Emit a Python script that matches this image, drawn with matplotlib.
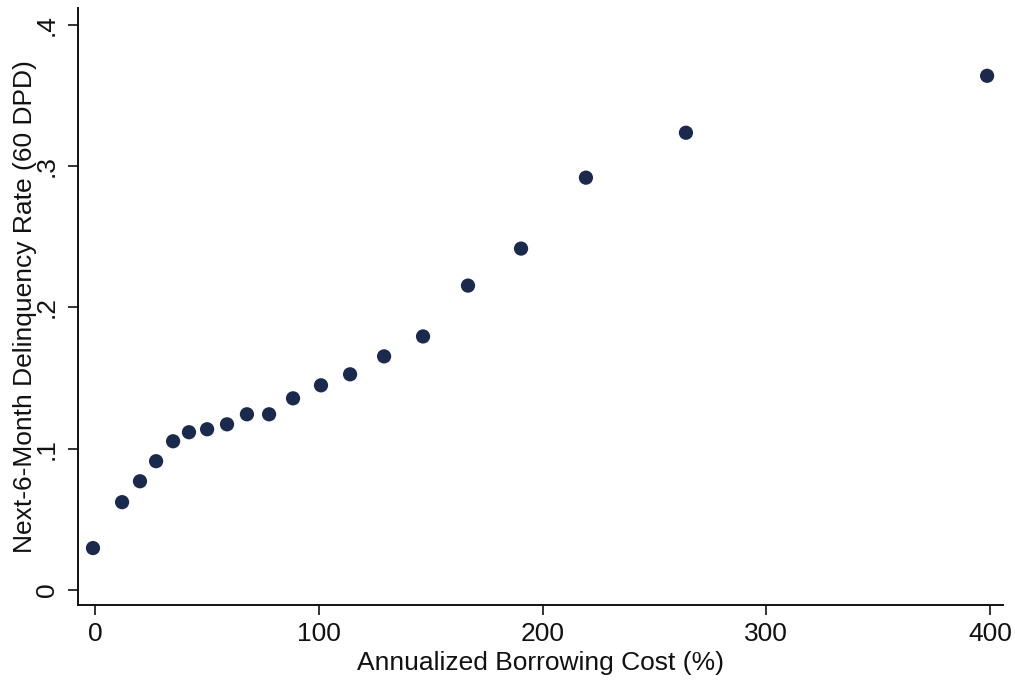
"""
Delinquency rate vs annualized borrowing cost (binned scatter).
"""

import matplotlib
matplotlib.use("Agg")
import matplotlib.pyplot as plt

# Binned means
COST = [-0.9, 12.1, 20.1, 27.3, 34.9, 42.0, 50.1, 59.0, 67.9, 77.8,
        88.5, 101.0, 114.0, 129.2, 146.6, 166.7, 190.4, 219.4, 264.1, 398.7]
DELINQ = [0.0297, 0.0622, 0.0770, 0.0912, 0.1053, 0.1117, 0.1138, 0.1173,
          0.1244, 0.1244, 0.1357, 0.1449, 0.1527, 0.1654, 0.1795, 0.2155,
          0.2417, 0.2919, 0.3237, 0.3640]

XTICKS = [0, 100, 200, 300, 400]
YTICKS = [0, 0.1, 0.2, 0.3, 0.4]
YTICKLABELS = ["0", ".1", ".2", ".3", ".4"]

plt.rcParams["font.family"] = ["Liberation Sans", "DejaVu Sans"]

fig = plt.figure(figsize=(10.15, 6.81), dpi=100)
ax = fig.add_axes([78 / 1015, 76 / 681, 925 / 1015, 597 / 681])

ax.scatter(COST, DELINQ, s=105, color="#1b2a4c", edgecolors="none", zorder=3)

ax.set_xlim(-7.6, 405.8)
ax.set_ylim(-0.0106, 0.412)

ax.set_xticks(XTICKS)
ax.set_xticklabels([str(t) for t in XTICKS])
ax.set_yticks(YTICKS)
ax.set_yticklabels(YTICKLABELS, rotation=90, va="center")

for side in ["top", "right"]:
    ax.spines[side].set_visible(False)
for side in ["left", "bottom"]:
    ax.spines[side].set_linewidth(1.4)
    ax.spines[side].set_color("#111111")

ax.tick_params(axis="both", direction="out", length=7, width=1.2,
               color="#111111", labelsize=19, labelcolor="#111111")
ax.tick_params(axis="x", pad=5)
ax.tick_params(axis="y", pad=7)

ax.set_xlabel("Annualized Borrowing Cost (%)", fontsize=19, color="#111111",
              labelpad=4)
ax.set_ylabel("Next-6-Month Delinquency Rate (60 DPD)", fontsize=19,
              color="#111111", labelpad=-2)

plt.savefig("out.png", dpi=100)
